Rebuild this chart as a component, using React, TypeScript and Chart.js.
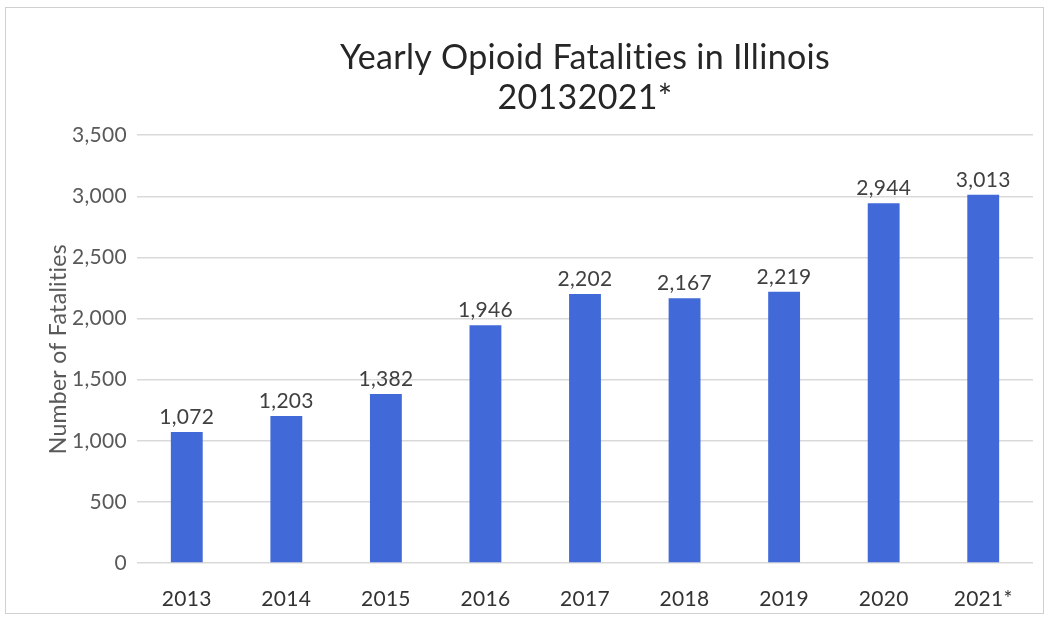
import React, { useEffect, useRef } from "react";
import { Chart, registerables } from "chart.js";

Chart.register(...registerables);

const categories = ["2013", "2014", "2015", "2016", "2017", "2018", "2019", "2020", "2021*"];
const fatalities = [1072, 1203, 1382, 1946, 2202, 2167, 2219, 2944, 3013];
const yTickValues = [0, 500, 1000, 1500, 2000, 2500, 3000, 3500];
const titleLines = ["Yearly Opioid Fatalities in Illinois", "20132021*"];
const yAxisTitle = "Number of Fatalities";

const FONT = "Lato, 'Open Sans', sans-serif";
const fmt = (v: number) => v.toLocaleString("en-US");

const noLigatures = {
  id: "noLigatures",
  beforeDraw(chart: any) {
    try {
      chart.ctx.letterSpacing = "0.3px";
    } catch (e) {}
  },
};

const valueLabels = {
  id: "valueLabels",
  afterDatasetsDraw(chart: any) {
    const ctx = chart.ctx;
    const meta = chart.getDatasetMeta(0);
    ctx.save();
    ctx.font = `21px ${FONT}`;
    ctx.fillStyle = "#404040";
    ctx.textAlign = "center";
    ctx.textBaseline = "alphabetic";
    meta.data.forEach((bar: any, i: number) => {
      ctx.fillText(fmt(fatalities[i]), bar.x, bar.y - 8);
    });
    ctx.restore();
  },
};

export default function App() {
  const canvasRef = useRef<HTMLCanvasElement | null>(null);

  useEffect(() => {
    if (!canvasRef.current) return;
    const chart = new Chart(canvasRef.current, {
      type: "bar",
      data: {
        labels: categories,
        datasets: [
          {
            data: fatalities,
            backgroundColor: "#4169d8",
            borderWidth: 0,
            categoryPercentage: 1,
            barPercentage: 0.32,
          },
        ],
      },
      options: {
        responsive: false,
        animation: false,
        layout: { padding: { left: 0, right: 17, top: 0, bottom: 0 } },
        plugins: {
          legend: { display: false },
          tooltip: { enabled: false },
          title: {
            display: true,
            fullSize: false,
            text: titleLines,
            color: "#262626",
            font: { family: FONT, size: 34, weight: "normal", lineHeight: 1.18 },
            padding: { top: 38, bottom: 17 },
          },
        },
        scales: {
          x: {
            grid: { display: false, drawTicks: false },
            border: { display: false },
            ticks: {
              color: "#333333",
              font: { family: FONT, size: 21 },
              padding: 24,
            },
            afterFit: (scale: any) => {
              scale.height = 57;
            },
          },
          y: {
            min: 0,
            max: 3500,
            afterBuildTicks: (scale: any) => {
              scale.ticks = yTickValues.map((v) => ({ value: v }));
            },
            grid: { color: "#d9d9d9", drawTicks: false, lineWidth: 1.5 },
            border: { display: false },
            ticks: {
              color: "#595959",
              font: { family: FONT, size: 21 },
              padding: 10,
              callback: (v: any) => fmt(Number(v)),
            },
            title: {
              display: true,
              text: yAxisTitle,
              color: "#595959",
              font: { family: FONT, size: 23 },
              padding: { top: 45, bottom: 4 },
            },
            afterFit: (scale: any) => {
              scale.width = 137;
            },
          },
        },
      },
      plugins: [noLigatures, valueLabels],
    });
    return () => chart.destroy();
  }, []);

  return (
    <div style={{ position: "absolute", left: 0, top: 0, width: 1050, height: 620, background: "#fff" }}>
      <div
        style={{
          position: "absolute",
          left: 5,
          top: 7,
          width: 1039,
          height: 607,
          border: "1px solid #d0d0d0",
          boxSizing: "border-box",
        }}
      />
      <canvas ref={canvasRef} width={1050} height={620} style={{ position: "absolute", left: 0, top: 0 }} />
    </div>
  );
}
